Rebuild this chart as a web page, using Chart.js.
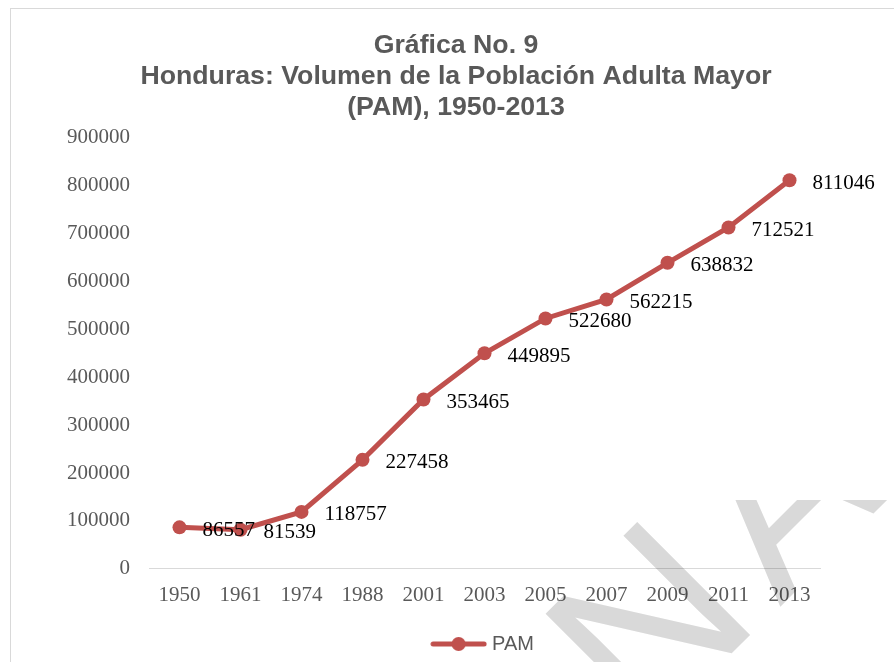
<!DOCTYPE html>
<html>
<head>
<meta charset="utf-8">
<script src="https://cdn.jsdelivr.net/npm/chart.js@4.4.1/dist/chart.umd.min.js"></script>
<style>
  html, body { margin: 0; padding: 0; overflow: hidden; background: #fff; }
  #frame { position: absolute; left: 10px; top: 8px; width: 892px; height: 700px; border: 1px solid #d9d9d9; overflow: hidden; }
  #chart { position: absolute; left: 0; top: 0; }
</style>
</head>
<body>
<div id="frame"><canvas id="chart" width="890" height="655"></canvas></div>
<script>
// data
const years = ['1950', '1961', '1974', '1988', '2001', '2003', '2005', '2007', '2009', '2011', '2013'];
const pam = [86557, 81539, 118757, 227458, 353465, 449895, 522680, 562215, 638832, 712521, 811046];
const titleLines = ['Gráfica No. 9', 'Honduras: Volumen de la Población Adulta Mayor', '(PAM), 1950-2013'];
const seriesName = 'PAM';
const yMax = 900000;
const yStep = 100000;

const red = '#C0504D';
const grey = '#595959';
const serif = '"Liberation Serif", "Times New Roman", serif';
const sans = '"Liberation Sans", Arial, sans-serif';

// legend marker: line with a dot, like the office legend
function legendMarker() {
    const c = document.createElement('canvas');
    c.width = 57; c.height = 16;
    const g = c.getContext('2d');
    g.strokeStyle = red; g.lineWidth = 5; g.lineCap = 'round';
    g.beginPath(); g.moveTo(3, 8); g.lineTo(54, 8); g.stroke();
    g.fillStyle = red;
    g.beginPath(); g.arc(28.5, 8, 7, 0, Math.PI * 2); g.fill();
    return c;
}

// value labels to the right of each point
const valueLabels = {
    id: 'valueLabels',
    afterDatasetsDraw(chart) {
        const ctx = chart.ctx;
        const meta = chart.getDatasetMeta(0);
        const data = chart.data.datasets[0].data;
        ctx.save();
        ctx.font = '21px ' + serif;
        ctx.fillStyle = '#000';
        ctx.textAlign = 'left';
        ctx.textBaseline = 'middle';
        meta.data.forEach((pt, i) => {
            ctx.fillText(String(data[i]), pt.x + 23, pt.y + 3);
        });
        ctx.restore();
    }
};

// faint diagonal watermark across the lower right corner
const watermark = {
    id: 'watermark',
    afterDraw(chart) {
        const ctx = chart.ctx;
        ctx.save();
        ctx.beginPath();
        ctx.rect(0, 491, chart.width, chart.height);
        ctx.clip();
        ctx.globalCompositeOperation = 'multiply';
        ctx.fillStyle = '#d9d9d9';
        ctx.font = '232px ' + sans;
        ctx.textBaseline = 'alphabetic';
        [['N', 634, 731], ['A', 769, 598]].forEach(([ch, x, y]) => {
            ctx.save();
            ctx.translate(x, y);
            ctx.rotate(-Math.PI / 4);
            ctx.fillText(ch, 0, 0);
            ctx.restore();
        });
        ctx.restore();
    }
};

new Chart(document.getElementById('chart'), {
    type: 'line',
    data: {
        labels: years,
        datasets: [{
            label: seriesName,
            data: pam,
            borderColor: red,
            backgroundColor: red,
            borderWidth: 5,
            pointRadius: 7,
            pointBorderWidth: 0,
            pointBackgroundColor: red,
            pointStyle: 'circle',
            tension: 0
        }]
    },
    options: {
        responsive: false,
        animation: false,
        layout: { padding: 0 },
        scales: {
            x: {
                offset: true,
                grid: { display: false, drawTicks: false },
                border: { display: true, color: '#d9d9d9', width: 1 },
                ticks: { color: grey, font: { family: serif, size: 21 }, padding: 14, maxRotation: 0 }
            },
            y: {
                min: 0,
                max: yMax,
                grid: { display: false, drawTicks: false },
                border: { display: false },
                ticks: {
                    stepSize: yStep,
                    color: grey,
                    padding: 19,
                    font: { family: serif, size: 21 },
                    callback: v => String(v)
                },
                afterFit(s) { s.width = 138; }
            },
            pad: {
                axis: 'y',
                position: 'right',
                grid: { display: false, drawTicks: false },
                border: { display: false },
                ticks: { display: false },
                afterFit(s) { s.width = 81; }
            }
        },
        plugins: {
            title: {
                display: true,
                text: titleLines,
                color: grey,
                font: { family: sans, size: 26.7, weight: 'bold', lineHeight: 1.17 },
                padding: { top: 21, bottom: 14 }
            },
            legend: {
                position: 'bottom',
                fullSize: false,
                labels: {
                    usePointStyle: true,
                    pointStyle: legendMarker(),
                    pointStyleWidth: 47,
                    color: grey,
                    padding: 12,
                    font: { family: sans, size: 20 }
                }
            },
            tooltip: { enabled: false }
        }
    },
    plugins: [valueLabels, watermark]
});
</script>
</body>
</html>
